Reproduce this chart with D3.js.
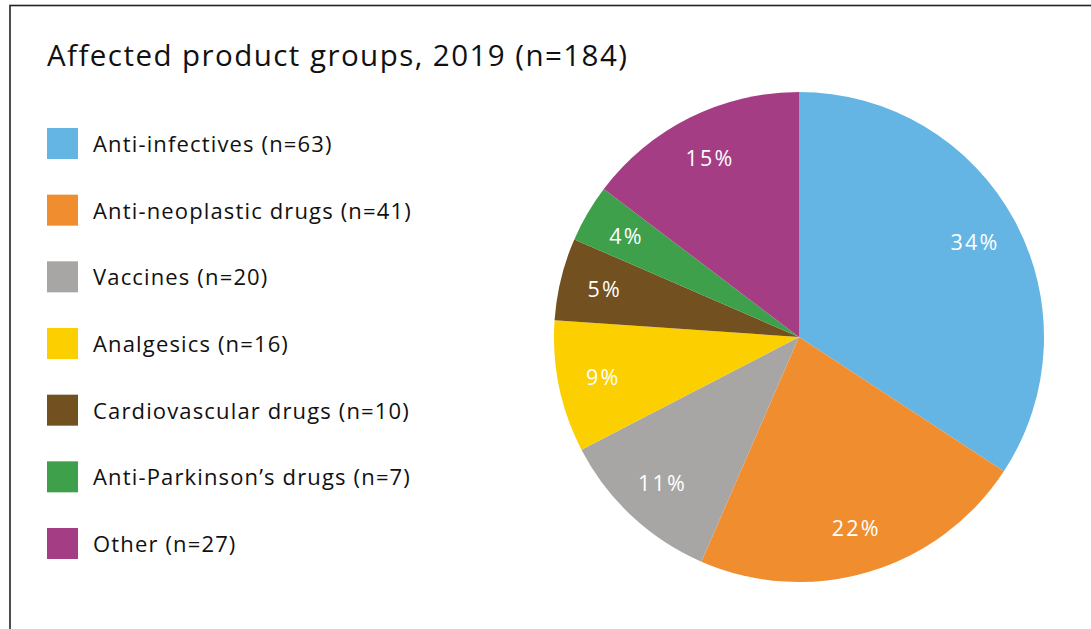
<!DOCTYPE html>
<html>
<head>
<meta charset="utf-8">
<script src="https://cdn.jsdelivr.net/npm/d3@7"></script>
<style>
  html, body { margin: 0; padding: 0; background: #fff; }
  svg { display: block; }
  text { font-family: "Open Sans", "Noto Sans", sans-serif; }
</style>
</head>
<body>
<svg id="chart" width="1091" height="629"></svg>
<script>
// Product groups affected by supply shortages, 2019
const categories = [
  "Anti-infectives",
  "Anti-neoplastic drugs",
  "Vaccines",
  "Analgesics",
  "Cardiovascular drugs",
  "Anti-Parkinson\u2019s drugs",
  "Other"
];
const counts = [63, 41, 20, 16, 10, 7, 27];
const percentLabels = ["34%", "22%", "11%", "9%", "5%", "4%", "15%"];
const colors = ["#64b5e4", "#f08e2f", "#a7a6a4", "#fccf00", "#72501f", "#3fa04c", "#a53d85"];
const title = "Affected product groups, 2019 (n=184)";

const svg = d3.select("#chart");
const W = 1091, H = 629;

// Frame (open at right and bottom edges)
svg.append("rect")
  .attr("x", 10).attr("y", 5.5)
  .attr("width", W).attr("height", H)
  .attr("fill", "none")
  .attr("stroke", "#222")
  .attr("stroke-width", 1.6);

// Title
svg.append("text")
  .attr("x", 47).attr("y", 66)
  .attr("font-size", 29.5)
  .attr("letter-spacing", 1.45)
  .attr("fill", "#111")
  .text(title);

// Legend
const rowY = d3.scalePoint().domain(d3.range(categories.length)).range([143.5, 543.5]);
const legend = svg.append("g").selectAll("g")
  .data(categories)
  .join("g")
  .attr("transform", (d, i) => `translate(47,${rowY(i)})`);
legend.append("rect")
  .attr("x", 0).attr("y", -15.5)
  .attr("width", 31).attr("height", 31)
  .attr("fill", (d, i) => colors[i]);
legend.append("text")
  .attr("x", 46).attr("y", 8.5)
  .attr("font-size", 22)
  .attr("letter-spacing", 1.15)
  .attr("fill", "#111")
  .text((d, i) => `${d} (n=${counts[i]})`);

// Pie
const cx = 799, cy = 337, R = 245;
const pie = d3.pie().sort(null).value(d => d.value);
const arcs = pie(categories.map((c, i) => ({ name: c, value: counts[i], i })));
const arc = d3.arc().innerRadius(0).outerRadius(R);
const labelArc = d3.arc().innerRadius(200).outerRadius(200);

const g = svg.append("g").attr("transform", `translate(${cx},${cy})`);
g.selectAll("path")
  .data(arcs)
  .join("path")
  .attr("d", arc)
  .attr("fill", d => colors[d.data.i]);

g.selectAll("text")
  .data(arcs)
  .join("text")
  .attr("transform", d => `translate(${labelArc.centroid(d)})`)
  .attr("text-anchor", "middle")
  .attr("dy", "0.36em")
  .attr("font-size", 21.5)
  .attr("letter-spacing", 2.2)
  .attr("fill", "#fff")
  .text(d => percentLabels[d.data.i]);
</script>
</body>
</html>
